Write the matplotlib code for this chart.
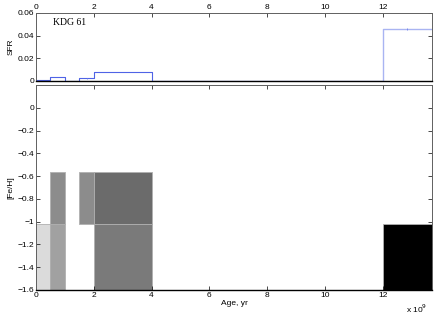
import numpy as np
import matplotlib
matplotlib.use('Agg')
import matplotlib.pyplot as plt

plt.rcParams['font.family'] = ['Liberation Sans', 'DejaVu Sans']

# age bin edges (units of 1e9 yr)
age_edges = [0, 0.5, 1.0, 1.5, 2.0, 4.0, 12.0, 13.7]
sfr = [0.001, 0.0035, 0.0, 0.0025, 0.0078, 0.0, 0.046]
sfr_err = [0.0003, 0.0003, 0.0, 0.0004, 0.0003, 0.0, 0.0006]

feh_edges = [-1.6, -1.02, -0.56]
# gray level per cell (rows: metallicity bins, cols: age bins), None = empty
gray_low = [0.86, 0.63, None, None, 0.48, None, 0.0]
gray_high = [None, 0.55, None, 0.55, 0.42, None, None]

fig = plt.figure(figsize=(4.36, 3.17), dpi=100)
ax1 = fig.add_axes([0.0826, 0.7445, 0.908, 0.2145])
ax2 = fig.add_axes([0.0826, 0.0852, 0.908, 0.6467])

xmax = 13.7

# SFR step histogram
xs = np.repeat(age_edges, 2)[1:-1]
ys = np.repeat(sfr, 2)
ax1.plot(xs[:11], ys[:11], color='#4f63e6', lw=0.8)
ax1.plot(xs[10:], ys[10:], color='#a9b4f2', lw=1.0)
centers = [(age_edges[i] + age_edges[i + 1]) / 2 for i in range(len(sfr))]
ax1.errorbar(centers, sfr, yerr=sfr_err, fmt='none', ecolor='#6f80ea', elinewidth=0.6)
ax1.set_xlim(0, xmax)
ax1.set_ylim(0, 0.06)
ax1.set_yticks([0, 0.02, 0.04, 0.06])
ax1.set_yticklabels(['0', '0.02', '0.04', '0.06'])
ax1.set_xticks(range(0, 13, 2))
ax1.xaxis.tick_top()
ax1.tick_params(axis='both', direction='in', labelsize=6, length=3, width=0.5, pad=1.5)
ax1.tick_params(axis='y', right=True)
ax1.set_ylabel('SFR', fontsize=6, labelpad=2)
ax1.text(0.6, 0.052, 'KDG 61', fontsize=7, family='Liberation Serif', va='center')

# metallicity / age map
for j, grays in enumerate([gray_low, gray_high]):
    for i, g in enumerate(grays):
        if g is None:
            continue
        ax2.fill_between([age_edges[i], age_edges[i + 1]], feh_edges[j], feh_edges[j + 1],
                         color=str(g), edgecolor='#b0b0b0', linewidth=0.6)
ax2.set_xlim(0, xmax)
ax2.set_ylim(-1.6, 0.2)
yt = np.round(np.arange(-1.6, 0.01, 0.2), 1)
ax2.set_yticks(yt)
ax2.set_yticklabels(['\u22121' if v == -1 else ('0' if v == 0 else '\u2212%g' % abs(v)) for v in yt])
ax2.set_xticks(range(0, 13, 2))
ax2.tick_params(axis='both', direction='in', labelsize=6, length=3, width=0.5, pad=1.5)
ax2.tick_params(axis='y', right=True)
ax2.tick_params(axis='x', top=True)
ax2.set_ylabel('[Fe/H]', fontsize=6, labelpad=2)
ax2.set_xlabel('Age, yr', fontsize=6, labelpad=1)
fig.text(0.955, 0.012, 'x 10$^9$', fontsize=6, ha='center')

for ax in (ax1, ax2):
    for s in ax.spines.values():
        s.set_color('#606060')
        s.set_linewidth(0.7)
    ax.spines['bottom'].set_color('black')
    ax.spines['bottom'].set_linewidth(1.0)

fig.savefig('out.png', dpi=100)
